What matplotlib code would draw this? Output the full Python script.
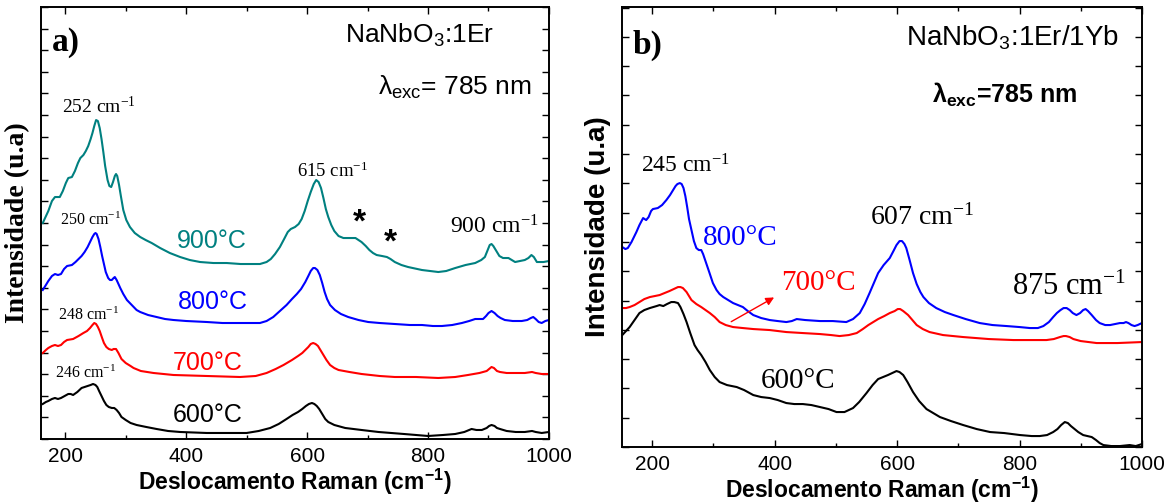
import matplotlib
matplotlib.use("Agg")
import matplotlib.pyplot as plt
from matplotlib.ticker import MultipleLocator

SANS = "Liberation Sans"
SERIF = "Liberation Serif"
plt.rcParams["font.family"] = SANS
plt.rcParams["mathtext.default"] = "regular"

# Raman spectra as (shift in cm-1, intensity in a.u.) pairs, vertically offset per temperature

# ---------------- (a) NaNbO3:1Er ----------------
a_900 = [(162.8, 216), (172, 228), (178, 238), (183, 242), (191, 242), (196, 248), (201, 256),
         (205, 261), (211, 262), (216, 268), (221, 276), (225, 281), (230, 284), (234, 288),
         (238, 293), (242, 300), (245, 306), (248, 313), (251, 319), (254, 318), (257, 311),
         (260, 300), (263, 287), (266, 273), (270, 259), (273, 253), (276, 252), (279, 257),
         (282, 263), (284, 265), (286, 263), (289, 254), (292, 243), (296, 229), (301, 219),
         (307, 212), (315, 206), (324, 202), (333, 199), (343, 196), (357, 191), (373, 186),
         (390, 182), (406, 179), (423, 177), (445, 176), (467, 176), (490, 175), (506, 175),
         (522, 175), (533, 177), (540, 180), (547, 185), (555, 192), (562, 200), (568, 207),
         (573, 210), (580, 212), (586, 215), (591, 220), (596, 228), (601, 238), (606, 247),
         (611, 255), (615, 259), (619, 257), (623, 251), (627, 241), (631, 230), (635, 222),
         (640, 214), (645, 208), (652, 203), (660, 201), (670, 201), (680, 201), (690, 197),
         (697, 193), (703, 189), (709, 186), (715, 184), (724, 183), (732, 182), (738, 180),
         (745, 177), (756, 174), (767, 172), (790, 169), (817, 167), (830, 168), (845, 171),
         (862, 174), (878, 176), (888, 179), (894, 182), (898, 188), (902, 194), (905, 195),
         (908, 193), (913, 188), (918, 183), (924, 181), (933, 181), (944, 177), (952, 178),
         (960, 179), (966, 181), (971, 184), (975, 182), (980, 177), (991, 177), (1000, 178)]

a_800 = [(162.8, 149), (168, 154), (172, 158), (178, 163), (183, 165), (188, 164), (193, 165),
         (198, 170), (203, 173), (211, 174), (217, 177), (222, 180), (227, 183), (232, 187),
         (237, 192), (241, 197), (245, 202), (248, 205), (250, 206), (252, 205), (255, 200),
         (258, 192), (261, 183), (264, 175), (267, 167), (271, 161), (274, 159), (277, 159),
         (280, 161), (282, 162), (285, 159), (288, 155), (291, 151), (296, 145), (302, 139),
         (310, 134), (318, 129), (324, 127), (337, 124), (351, 122), (365, 120), (379, 119),
         (400, 118), (434, 117), (460, 116), (489, 116), (510, 116), (522, 116), (533, 118),
         (544, 122), (555, 128), (566, 134), (575, 140), (583, 145), (590, 150), (597, 157),
         (602, 163), (606, 168), (610, 171), (613, 171), (617, 169), (621, 164), (625, 156),
         (629, 147), (633, 140), (638, 134), (646, 129), (656, 125), (668, 122), (685, 119),
         (701, 117), (720, 116), (745, 115), (770, 114), (790, 114), (808, 113), (823, 113),
         (840, 114), (856, 116), (868, 118), (878, 120), (885, 120), (891, 120), (896, 123),
         (900, 126), (905, 128), (910, 126), (915, 123), (920, 121), (927, 119), (940, 118),
         (955, 118), (964, 119), (970, 121), (974, 122), (978, 120), (983, 117), (988, 116),
         (994, 118), (1000, 119)]

a_700 = [(162.8, 86), (168, 89), (172, 91), (178, 93), (183, 94), (188, 93), (193, 94),
         (198, 97), (203, 99), (213, 100), (222, 103), (230, 106), (236, 108), (241, 111),
         (245, 114), (248, 116), (251, 115), (254, 112), (257, 108), (261, 101), (264, 96),
         (268, 92), (272, 90), (277, 89), (280, 90), (284, 90), (288, 86), (293, 80), (300, 76),
         (308, 73), (313, 71), (325, 68), (346, 66), (379, 64), (434, 63), (489, 62), (515, 63),
         (533, 66), (548, 70), (561, 74), (575, 79), (585, 83), (592, 86), (597, 89), (602, 92),
         (606, 95), (610, 96), (614, 95), (618, 93), (622, 89), (627, 84), (632, 79), (638, 74),
         (645, 71), (652, 69), (670, 67), (690, 65), (720, 63), (745, 62), (780, 62), (817, 61),
         (845, 62), (866, 64), (885, 66), (897, 68), (901, 70), (905, 72), (909, 71), (914, 68),
         (919, 67), (930, 66), (945, 66), (960, 66), (972, 67), (978, 66), (988, 65), (1000, 65)]

a_600 = [(162.8, 35), (168, 37), (172, 38), (178, 40), (183, 41), (188, 40), (193, 41),
         (199, 43), (205, 45), (209, 45), (213, 44), (220, 47), (227, 51), (232, 52), (237, 53),
         (242, 54), (246, 55), (250, 54), (253, 52), (256, 48), (260, 43), (264, 38), (268, 34),
         (272, 32), (277, 31), (281, 31), (285, 29), (289, 26), (293, 22), (300, 19), (308, 16),
         (318, 14), (334, 12), (351, 10), (370, 8), (390, 7), (434, 6), (470, 6), (500, 6),
         (520, 8), (539, 11), (553, 15), (566, 20), (576, 24), (585, 27), (592, 30), (598, 33),
         (603, 35), (608, 36), (612, 35), (616, 33), (620, 30), (625, 25), (630, 20), (635, 17),
         (645, 14), (663, 11), (690, 9), (718, 7), (760, 5), (800, 3), (825, 4), (845, 5),
         (860, 7), (872, 10), (880, 9), (889, 9), (897, 11), (901, 13), (905, 14), (910, 13),
         (914, 11), (919, 10), (930, 8), (945, 7), (960, 7), (972, 8), (978, 7), (988, 6),
         (1000, 7)]

# ---------------- (b) NaNbO3:1Er/1Yb ----------------
b_800 = [(151, 200), (156, 198), (160, 199), (166, 205), (170, 210), (174, 215), (179, 222),
         (185, 229), (190, 227), (194, 230), (198, 236), (201, 238), (209, 239), (216, 242),
         (223, 247), (229, 252), (234, 257), (238, 261), (241, 263), (245, 264), (248, 263),
         (251, 259), (254, 251), (257, 240), (260, 228), (264, 217), (268, 206), (272, 199),
         (276, 197), (280, 197), (283, 193), (288, 184), (293, 175), (299, 164), (305, 157),
         (310, 153), (316, 150), (324, 147), (332, 144), (340, 142), (348, 140), (356, 136),
         (365, 132), (378, 129), (392, 127), (405, 126), (419, 125), (428, 126), (436, 128),
         (450, 127), (474, 126), (495, 126), (517, 125), (528, 128), (539, 134), (547, 143),
         (555, 154), (562, 164), (569, 174), (578, 182), (588, 189), (594, 196), (599, 202),
         (604, 206), (608, 206), (612, 203), (615, 199), (620, 188), (626, 174), (632, 163),
         (638, 155), (643, 150), (652, 144), (664, 139), (678, 135), (692, 132), (712, 128),
         (735, 124), (756, 122), (779, 121), (800, 120), (817, 119), (830, 119), (839, 121),
         (848, 125), (855, 130), (861, 134), (867, 137), (872, 139), (877, 139), (882, 137),
         (887, 134), (893, 132), (899, 134), (904, 137), (908, 138), (912, 136), (918, 132),
         (925, 127), (931, 124), (940, 122), (948, 122), (956, 123), (964, 124), (970, 124),
         (974, 125), (978, 124), (983, 122), (988, 121), (993, 122), (1000, 124)]

b_700 = [(151, 139), (157, 139), (163, 140), (171, 142), (179, 145), (187, 148), (196, 150),
         (204, 151), (212, 152), (220, 154), (228, 156), (235, 158), (242, 160), (246, 160),
         (250, 159), (256, 155), (264, 147), (272, 143), (280, 140), (287, 137), (294, 134),
         (302, 130), (310, 125), (320, 122), (332, 120), (348, 119), (365, 118), (392, 117),
         (419, 115), (446, 114), (474, 113), (492, 112), (506, 111), (521, 112), (534, 114),
         (544, 118), (553, 122), (561, 125), (569, 128), (579, 131), (588, 134), (596, 136),
         (601, 138), (605, 138), (610, 136), (614, 134), (618, 132), (625, 127), (632, 122),
         (642, 118), (653, 115), (675, 112), (708, 110), (750, 108), (790, 107), (820, 107),
         (844, 107), (856, 108), (866, 110), (872, 111), (876, 111), (882, 110), (888, 108),
         (900, 106), (926, 104), (960, 104), (1000, 105)]

b_600 = [(151, 112), (157, 116), (163, 120), (171, 127), (179, 134), (187, 137), (196, 139),
         (207, 141), (212, 142), (218, 141), (224, 143), (231, 145), (236, 145), (242, 144),
         (246, 140), (251, 133), (256, 125), (262, 114), (269, 102), (274, 97), (280, 92),
         (287, 85), (294, 77), (302, 70), (310, 65), (322, 62), (338, 60), (350, 57), (365, 52),
         (378, 50), (392, 49), (405, 47), (419, 44), (432, 43), (446, 43), (460, 42), (474, 40),
         (488, 38), (501, 35), (508, 35), (514, 35), (521, 37), (528, 39), (538, 45), (550, 54),
         (560, 62), (569, 68), (577, 70), (585, 72), (592, 74), (599, 76), (604, 75), (610, 72),
         (617, 65), (626, 55), (636, 46), (648, 38), (659, 34), (670, 30), (688, 26), (708, 22),
         (730, 18), (752, 15), (775, 14), (801, 12), (820, 11), (833, 11), (845, 12), (855, 15),
         (862, 18), (868, 22), (874, 25), (879, 24), (884, 21), (888, 19), (896, 15), (904, 12),
         (911, 11), (918, 10), (925, 7), (931, 4), (937, 2), (950, 1), (964, 1), (980, 2),
         (990, 1), (1000, 3)]

TEAL, BLUE, RED, BLACK = "#008080", "#0000ff", "#ff0000", "#000000"
LW = 1.5

fig = plt.figure(figsize=(11.73, 5.04), dpi=100)
ax_a = fig.add_axes([0.035, 0.129, 0.433, 0.857])
ax_b = fig.add_axes([0.530, 0.113, 0.4435, 0.873])


def plot_spectrum(ax, pairs, color):
    shift, inten = zip(*pairs)
    ax.plot(shift, inten, color=color, lw=LW, solid_joinstyle="round")


def style_axes(ax, xlim, ylim, ystep):
    ax.set_xlim(*xlim)
    ax.set_ylim(*ylim)
    ax.xaxis.set_major_locator(MultipleLocator(200))
    ax.xaxis.set_minor_locator(MultipleLocator(100))
    ax.yaxis.set_major_locator(MultipleLocator(ystep))
    ax.tick_params(which="both", direction="in", top=True, right=True, width=1)
    ax.tick_params(which="major", length=5)
    ax.tick_params(which="minor", length=3)
    ax.tick_params(axis="x", labelsize=15, pad=6)
    ax.tick_params(axis="y", labelleft=False)
    for s in ax.spines.values():
        s.set_linewidth(1.4)
    ax.set_xlabel(r"Deslocamento Raman (cm$^{-1}$)", fontsize=16.5, fontweight="bold",
                  family=SANS, labelpad=0)


# panel (a)
style_axes(ax_a, (160, 1000), (0, 432), 21.6)
plot_spectrum(ax_a, a_900, TEAL)
plot_spectrum(ax_a, a_800, BLUE)
plot_spectrum(ax_a, a_700, RED)
plot_spectrum(ax_a, a_600, BLACK)
ax_a.set_ylabel("Intensidade (u.a)", fontsize=20, fontweight="bold", family=SERIF, labelpad=8)

ax_a.text(0.022, 0.917, "a)", transform=ax_a.transAxes, fontsize=24, fontweight="bold",
          family=SERIF, va="center", ha="left")
ax_a.text(0.746, 0.935, r"NaNbO$_3$:1Er", transform=ax_a.transAxes, fontsize=19,
          va="center", ha="center")
ax_a.text(0.815, 0.815, r"λ$_{exc}$= 785 nm", transform=ax_a.transAxes, fontsize=19,
          va="center", ha="center")

ax_a.text(194.7, 326, r"252 cm$^{-1}$", family=SERIF, fontsize=14)
ax_a.text(191.4, 214, r"250 cm$^{-1}$", family=SERIF, fontsize=11.5)
ax_a.text(188, 119, r"248 cm$^{-1}$", family=SERIF, fontsize=11.5)
ax_a.text(183, 61, r"246 cm$^{-1}$", family=SERIF, fontsize=11.5)
ax_a.text(583, 262, r"615 cm$^{-1}$", family=SERIF, fontsize=13.5)
ax_a.text(836, 206, r"900 cm$^{-1}$", family=SERIF, fontsize=17)
ax_a.text(687, 216, "*", fontsize=24, fontweight="bold", ha="center", va="center")
ax_a.text(737, 196, "*", fontsize=24, fontweight="bold", ha="center", va="center")

ax_a.text(443, 198, "900°C", color=TEAL, fontsize=18, ha="center", va="center")
ax_a.text(444, 137, "800°C", color=BLUE, fontsize=18, ha="center", va="center")
ax_a.text(436, 76, "700°C", color=RED, fontsize=18, ha="center", va="center")
ax_a.text(436, 24, "600°C", color=BLACK, fontsize=18, ha="center", va="center")

# panel (b)
style_axes(ax_b, (150, 1000), (0, 440), 29.3)
plot_spectrum(ax_b, b_800, BLUE)
plot_spectrum(ax_b, b_700, RED)
plot_spectrum(ax_b, b_600, BLACK)
ax_b.set_ylabel("Intensidade (u.a)", fontsize=20, fontweight="bold", family=SANS, labelpad=8)

ax_b.text(0.021, 0.914, "b)", transform=ax_b.transAxes, fontsize=24, fontweight="bold",
          family=SERIF, va="center", ha="left")
ax_b.text(0.752, 0.93, r"NaNbO$_3$:1Er/1Yb", transform=ax_b.transAxes, fontsize=20,
          va="center", ha="center")
ax_b.text(0.737, 0.80, r"λ$_{exc}$=785 nm", transform=ax_b.transAxes, fontsize=18,
          fontweight="bold", va="center", ha="center")

ax_b.text(182, 275, r"245 cm$^{-1}$", family=SERIF, fontsize=17)
ax_b.text(555, 222, r"607 cm$^{-1}$", family=SERIF, fontsize=20)
ax_b.text(787, 152, r"875 cm$^{-1}$", family=SERIF, fontsize=22)
ax_b.text(282, 202, "800°C", color=BLUE, family=SERIF, fontsize=21)
ax_b.text(411, 157, "700°C", color=RED, family=SERIF, fontsize=21)
ax_b.text(378, 59, "600°C", color=BLACK, family=SERIF, fontsize=21)
ax_b.annotate("", xy=(403, 151), xytext=(325, 124),
              arrowprops=dict(arrowstyle="-|>", color=RED, lw=1, mutation_scale=12))

fig.savefig("out.png", dpi=100)
